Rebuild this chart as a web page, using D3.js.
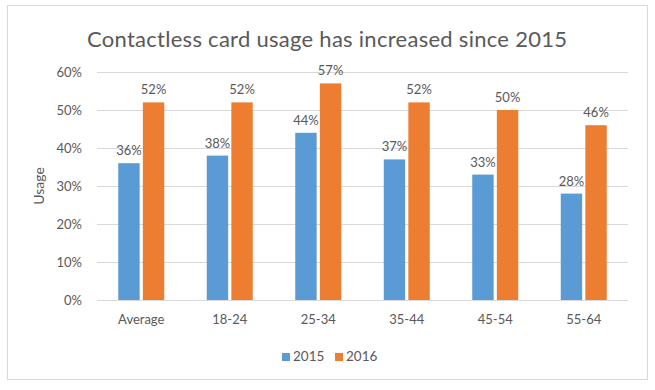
<!DOCTYPE html>
<html><head><meta charset="utf-8">
<script src="https://cdn.jsdelivr.net/npm/d3@7"></script>
<style>body{margin:0;background:#fff}text{font-family:Lato,"Open Sans",sans-serif}</style>
</head><body>
<svg id="c" width="655" height="390"></svg>
<script>
const categories = ["Average","18-24","25-34","35-44","45-54","55-64"];
const series = ["2015","2016"];
const values2015 = [36,38,44,37,33,28];
const values2016 = [52,52,57,52,50,46];
const yTicks = [0,10,20,30,40,50,60];
const colors = ["#5b9bd5","#ed7d31"];
const title = "Contactless card usage has increased since 2015";
const yTitle = "Usage";

const svg = d3.select("#c");
svg.append("rect").attr("x",7.5).attr("y",5.5).attr("width",640).attr("height",374)
  .attr("fill","#fff").attr("stroke","#d9d9d9");

const x = d3.scaleBand().domain(categories).range([97,628]);
const y = d3.scaleLinear().domain([0,60]).range([300,72]);
const inner = d3.scaleBand().domain(series).range([0,46]).paddingInner(0.13);

svg.append("g").selectAll("line").data(yTicks).join("line")
  .attr("x1",97).attr("x2",628).attr("y1",d=>Math.round(y(d))+0.5).attr("y2",d=>Math.round(y(d))+0.5)
  .attr("stroke","#d9d9d9");

const yAxis = svg.append("g").attr("transform","translate(86,0)")
  .call(d3.axisLeft(y).tickValues(yTicks).tickFormat(d=>d+"%").tickSize(0).tickPadding(4));
yAxis.select(".domain").remove();
yAxis.selectAll("text").attr("fill","#595959").style("font-size","13px").style("font-family","Lato,sans-serif");

const xAxis = svg.append("g").attr("transform","translate(0,310)")
  .call(d3.axisBottom(x).tickSize(0).tickPadding(5));
xAxis.select(".domain").remove();
xAxis.selectAll("text").attr("fill","#595959").style("font-size","13px").style("font-family","Lato,sans-serif");

const data = categories.map((c,i)=>({c, vals:[values2015[i],values2016[i]]}));
const groups = svg.append("g").selectAll("g").data(data).join("g")
  .attr("transform",d=>`translate(${x(d.c)+x.bandwidth()/2-23},0)`);
groups.selectAll("rect").data(d=>d.vals.map((v,j)=>({s:series[j],v,j}))).join("rect")
  .attr("x",d=>inner(d.s)).attr("width",inner.bandwidth())
  .attr("y",d=>y(d.v)).attr("height",d=>y(0)-y(d.v)).attr("fill",d=>colors[d.j]);
groups.selectAll("text").data(d=>d.vals.map((v,j)=>({s:series[j],v,j}))).join("text")
  .attr("x",d=>inner(d.s)+inner.bandwidth()/2).attr("y",d=>y(d.v)-8)
  .attr("text-anchor","middle").attr("fill","#595959").style("font-size","13px")
  .text(d=>d.v+"%");

svg.append("text").attr("x",327).attr("y",47).attr("text-anchor","middle")
  .attr("fill","#595959").style("font-size","22px").attr("textLength",480).text(title);

svg.append("text").attr("transform","translate(44,186) rotate(-90)").attr("text-anchor","middle")
  .attr("fill","#595959").style("font-size","14px").text(yTitle);

const legend = svg.append("g");
const legX = [282,335];
series.forEach((s,i)=>{
  legend.append("rect").attr("x",legX[i]).attr("y",353).attr("width",8).attr("height",8).attr("fill",colors[i]);
  legend.append("text").attr("x",legX[i]+11).attr("y",361).attr("fill","#595959").style("font-size","13.5px").text(s);
});
</script>
</body></html>
